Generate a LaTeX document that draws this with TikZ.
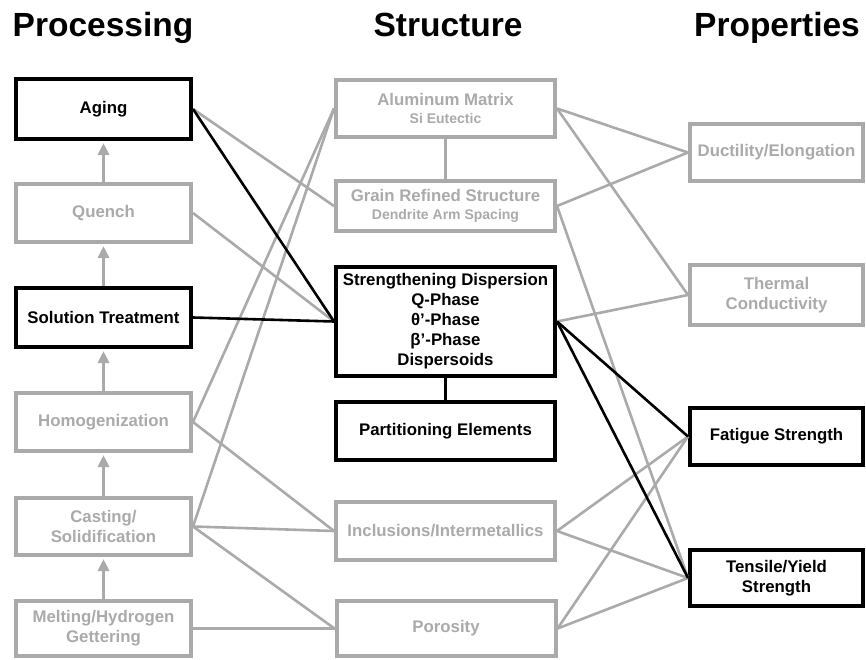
\documentclass[tikz,border=0pt]{standalone}
\usepackage{fontspec}
\setmainfont{Liberation Sans}
\usetikzlibrary{arrows.meta}
\definecolor{lg}{HTML}{AAAAAA}
\newcommand{\subtxt}[1]{{\fontsize{14}{17}\selectfont #1}}
\begin{document}
\begin{tikzpicture}[x=1pt,y=-1pt,
  box/.style={draw, line width=4pt, fill=white, align=center, inner sep=0pt,
    font=\fontsize{16.8}{20}\selectfont\bfseries},
  gbox/.style={box, draw=lg, text=lg},
  bbox/.style={box, draw=black, text=black},
  lcol/.style={minimum width=175pt},
  mcol/.style={minimum width=219pt},
  rcol/.style={minimum width=173pt},
  head/.style={font=\fontsize{33.5}{40}\selectfont\bfseries, anchor=base},
  gl/.style={draw=lg, line width=2.6pt},
  bl/.style={draw=black, line width=2.6pt},
  uparr/.style={draw=lg, line width=3pt, -{Triangle[width=11pt,length=12pt]}, shorten >=2pt}
]
\useasboundingbox (0,0) rectangle (866,660);

% headers
\node[head] (hproc) at (103,37) {Processing};
\node[head] (hstru) at (448,37) {Structure};
\node[head] (hprop) at (777,37) {Properties};

% left column
\node[bbox, lcol, minimum height=60pt] (aging) at (103.5,109) {Aging};
\node[gbox, lcol, minimum height=58pt] (quench) at (103.5,213) {Quench};
\node[bbox, lcol, minimum height=59pt] (solution) at (103.5,317.5) {Solution Treatment};
\node[gbox, lcol, minimum height=58pt] (homog) at (103.5,422) {Homogenization};
\node[gbox, lcol, minimum height=57pt] (casting) at (103.5,526.5) {Casting/\\Solidification};
\node[gbox, lcol, minimum height=55pt] (melting) at (103.5,628.5) {Melting/Hydrogen\\Gettering};

% middle column
\node[gbox, mcol, minimum height=57pt] (almatrix) at (445.5,108.5) {Aluminum Matrix\\[-2pt]\subtxt{Si Eutectic}};
\node[gbox, mcol, minimum height=50pt] (grain) at (445.5,206) {Grain Refined Structure\\[-2pt]\subtxt{Dendrite Arm Spacing}};
\node[bbox, mcol, minimum height=109pt] (strength) at (445.5,321.5) {Strengthening Dispersion\\Q-Phase\\θ’-Phase\\β’-Phase\\Dispersoids};
\node[bbox, mcol, minimum height=58pt] (partition) at (445.5,431) {Partitioning Elements};
\node[gbox, mcol, minimum height=58pt] (inclusions) at (445.5,531) {Inclusions/Intermetallics};
\node[gbox, mcol, minimum height=55pt] (porosity) at (446,628.5) {Porosity};

% right column
\node[gbox, rcol, minimum height=57pt] (ductility) at (776.5,152.5) {Ductility/Elongation};
\node[gbox, rcol, minimum height=60pt] (thermal) at (776.5,295) {Thermal\\Conductivity};
\node[bbox, rcol, minimum height=57pt] (fatigue) at (776.5,436.5) {Fatigue Strength};
\node[bbox, rcol, minimum height=56pt] (tensile) at (776.5,578) {Tensile/Yield\\Strength};

% processing sequence arrows
\draw[uparr] (melting.north) -- (casting.south);
\draw[uparr] (casting.north) -- (homog.south);
\draw[uparr] (homog.north) -- (solution.south);
\draw[uparr] (solution.north) -- (quench.south);
\draw[uparr] (quench.north) -- (aging.south);

% middle vertical links
\draw[draw=lg, line width=3pt] (almatrix.south) -- (grain.north);
\draw[draw=black, line width=3pt] (strength.south) -- (partition.north);

% processing -> structure (gray)
\draw[gl] (aging.east) -- (grain.west);
\draw[gl] (quench.east) -- (strength.west);
\draw[gl] (homog.east) -- (almatrix.west);
\draw[gl] (casting.east) -- (almatrix.west);
\draw[gl] (homog.east) -- (inclusions.west);
\draw[gl] (casting.east) -- (inclusions.west);
\draw[gl] (casting.east) -- (porosity.west);
\draw[gl] (melting.east) -- (porosity.west);

% structure -> properties (gray)
\draw[gl] (almatrix.east) -- (ductility.west);
\draw[gl] (almatrix.east) -- (thermal.west);
\draw[gl] (grain.east) -- (ductility.west);
\draw[gl] (grain.east) -- (tensile.west);
\draw[gl] (strength.east) -- (thermal.west);
\draw[gl] (inclusions.east) -- (fatigue.west);
\draw[gl] (inclusions.east) -- (tensile.west);
\draw[gl] (porosity.east) -- (fatigue.west);
\draw[gl] (porosity.east) -- (tensile.west);

% black connections
\draw[bl] (aging.east) -- (strength.west);
\draw[bl] (solution.east) -- (strength.west);
\draw[bl] (strength.east) -- (fatigue.west);
\draw[bl] (strength.east) -- (tensile.west);
\end{tikzpicture}
\end{document}
